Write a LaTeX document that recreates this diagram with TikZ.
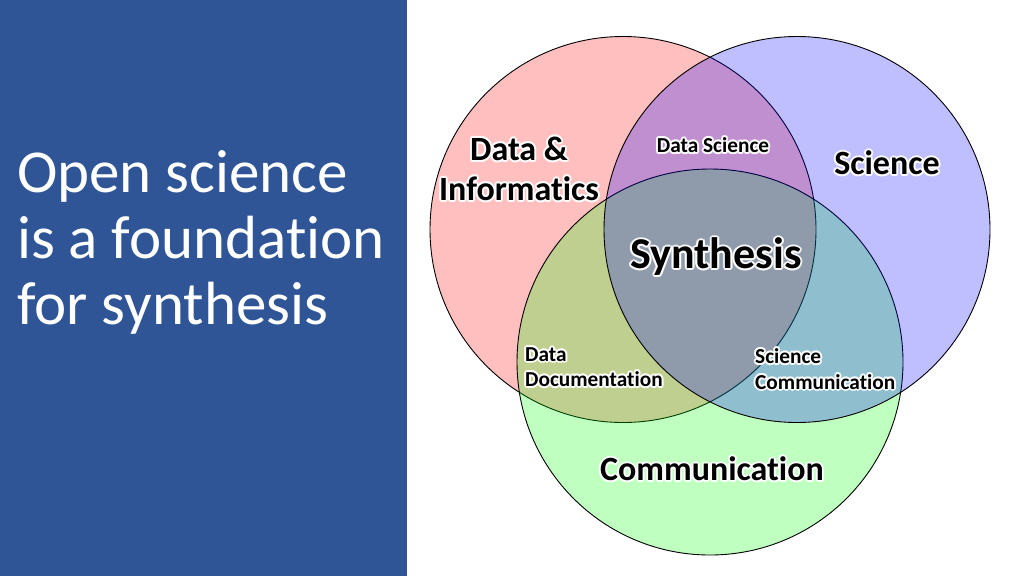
\documentclass[tikz,border=0pt]{standalone}
\usepackage{fontspec}
\setmainfont{Carlito}[Ligatures={NoCommon,NoContextual}]
\usepackage{xcolor}
\usetikzlibrary{calc,positioning}
\definecolor{panelcol}{RGB}{47,85,151}

% label with a soft white halo behind it
\newcommand{\glowlabel}[4]{% name, position, style, text
  \foreach \ang in {0,30,...,330}
    \node[#3, text=white, text opacity=0.7] (#1-\ang) at ($(#2)+(\ang:2pt)$) {#4};
  \node[#3] (#1) at (#2) {#4};
}

\begin{document}
\begin{tikzpicture}[
  x=1pt, y=-1pt,
  set/.style={draw=black, line width=0.9pt, fill opacity=0.25},
  big/.style={font=\fontsize{34}{40}\selectfont\bfseries, align=center, inner sep=0pt},
  huge/.style={font=\fontsize{44}{50}\selectfont\bfseries, inner sep=0pt},
  small/.style={font=\fontsize{21.3}{25.5}\selectfont\bfseries, align=left, inner sep=0pt},
  title/.style={font=\fontsize{61}{66}\selectfont, text=white, align=left, anchor=west, inner sep=0pt}
]
\useasboundingbox (0,0) rectangle (1024,576);
\fill[white] (0,0) rectangle (1024,576);
\fill[panelcol] (0,0) rectangle (407,576);

\node[title] (heading) at (17,242) {Open science\\is a foundation\\for synthesis};

% the three sets
\coordinate (dat) at (623,229.5);
\coordinate (sci) at (797,229.5);
\coordinate (com) at (710,362);
\draw[set, fill=red] (dat) circle[radius=193pt];
\draw[set, fill=green] (com) circle[radius=193pt];
\draw[set, fill=blue] (sci) circle[radius=193pt];

\coordinate (p-dat) at (519,169);
\coordinate (p-sci) at (887,163);
\coordinate (p-com) at (712,469);
\coordinate (p-ds) at (713,145);
\coordinate (p-syn) at (716,257);
\coordinate (p-dd) at (525,367);
\coordinate (p-sc) at (755,369);

\glowlabel{lbl-dat}{p-dat}{big}{Data \&\\Informatics}
\glowlabel{lbl-sci}{p-sci}{big}{Science}
\glowlabel{lbl-com}{p-com}{big}{Communication}
\glowlabel{lbl-ds}{p-ds}{small}{Data Science}
\glowlabel{lbl-syn}{p-syn}{huge}{Synthesis}
\glowlabel{lbl-dd}{p-dd}{small, anchor=west}{Data\\Documentation}
\glowlabel{lbl-sc}{p-sc}{small, anchor=west}{Science\\Communication}
\end{tikzpicture}
\end{document}
